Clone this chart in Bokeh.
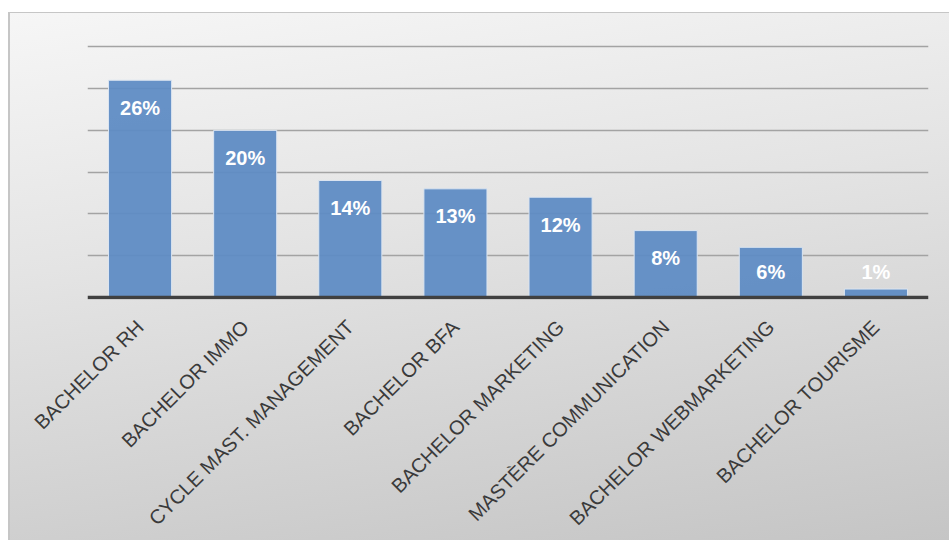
import math
from bokeh.plotting import figure
from bokeh.models import ColumnDataSource, FactorRange, Range1d, FixedTicker, Span
from bokeh.core.properties import value
from bokeh.embed import file_html
from bokeh.resources import INLINE

categories = ["BACHELOR RH", "BACHELOR IMMO", "CYCLE MAST. MANAGEMENT", "BACHELOR BFA",
              "BACHELOR MARKETING", "MASTÈRE COMMUNICATION", "BACHELOR WEBMARKETING",
              "BACHELOR TOURISME"]
shares = [26, 20, 14, 13, 12, 8, 6, 1]
value_labels = ["26%", "20%", "14%", "13%", "12%", "8%", "6%", "1%"]
grid_ticks = [5, 10, 15, 20, 25, 30]

label_y = [max(v - 3.3, 3.1) for v in shares]
src = ColumnDataSource(dict(cat=categories, v=shares, lab=value_labels, ly=label_y))

p = figure(x_range=FactorRange(*categories, range_padding=0), y_range=Range1d(-0.25, 31),
           frame_width=841, frame_height=261, output_backend="svg", toolbar_location=None,
           min_border_left=79, min_border_right=21, min_border_top=26, min_border_bottom=241)
p.width = 941
p.height = 528
p.background_fill_color = None
p.border_fill_color = None
p.outline_line_color = None
p.styles = {
    "margin-top": "12px",
    "margin-left": "8px",
    "background": "linear-gradient(172deg, #f6f6f6 0%, #e4e4e4 40%, #c5c5c5 100%)",
    "box-shadow": "inset 2px 1px 0 #c6c6c6",
}

p.xgrid.grid_line_color = None
p.ygrid.ticker = FixedTicker(ticks=grid_ticks)
p.ygrid.grid_line_color = "#a3a3a3"
p.ygrid.grid_line_width = 1.5
p.yaxis.visible = False

p.vbar(x="cat", top="v", bottom=0, width=0.6, source=src,
       fill_color="#5f8cc4", fill_alpha=0.95, line_color="#dbe5f1", line_width=1)

p.add_layout(Span(location=0, dimension="width", line_color="#404040", line_width=3.5))

p.text(x="cat", y="ly", text="lab", source=src, text_color="white",
       text_font=value("Liberation Sans"), text_font_style="bold",
       text_font_size="20px", text_align="center", text_baseline="middle")

ax = p.xaxis[0]
ax.axis_line_color = None
ax.major_tick_line_color = None
ax.minor_tick_line_color = None
ax.major_tick_out = 0
ax.major_label_orientation = math.pi / 4
ax.major_label_standoff = 24
ax.major_label_text_font = "Liberation Sans"
ax.major_label_text_font_size = "20px"
ax.major_label_text_color = "#3a3a3a"

open("out.html", "w").write(file_html(p, INLINE))
